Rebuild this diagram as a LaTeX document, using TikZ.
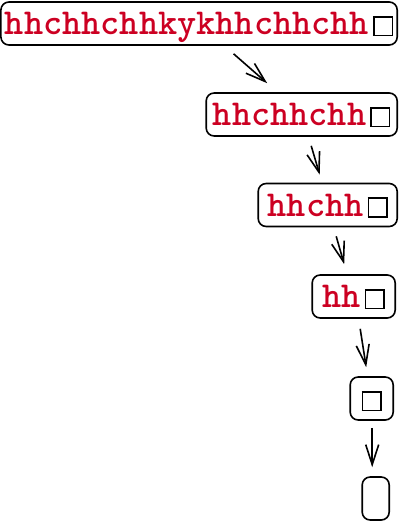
\documentclass[tikz,border=0pt]{standalone}
\usepackage{fontspec}
\usetikzlibrary{arrows.meta}
\definecolor{codered}{RGB}{204,0,34}
\newcommand\holebox{{\setlength{\fboxsep}{0pt}\setlength{\fboxrule}{1.6pt}\fbox{\rule{0pt}{17pt}\rule{17pt}{0pt}}}}
\newcommand\redword[1]{\textcolor{codered}{#1}\hspace{4pt}\holebox\hspace{6pt}}
\tikzset{
  strbox/.style={draw,line width=1.6pt,rounded corners=8pt,anchor=east,
    inner xsep=4pt,inner ysep=0pt,minimum height=43pt,
    text height=22pt,text depth=0pt,
    font=\ttfamily\bfseries\fontsize{36.5}{40}\selectfont},
  shrink/.style={line width=1.6pt,-{Straight Barb[length=20pt,width=13pt]}}
}
\begin{document}
\begin{tikzpicture}[x=1pt,y=-1pt]
  \useasboundingbox (0,0) rectangle (400,522);
  % the strings, one shorter each step
  \node[strbox] (s1) at (398,23.5) {\redword{hhchhchhkykhhchhchh}};
  \node[strbox,minimum width=191pt] (s2) at (398,114.5) {\redword{hhchhchh}};
  \node[strbox,minimum width=139pt] (s3) at (398,205) {\redword{hhchh}};
  \node[strbox,minimum width=83pt] (s4) at (396,296.5) {\redword{hh}};
  \node[strbox,minimum width=43pt] (s5) at (394,398.5) {\holebox};
  \node[strbox,minimum width=27pt] (s6) at (390,498.5) {};

  % arrows between them
  \draw[shrink] ([xshift=34.5pt,yshift=-8pt]s1.south) -- ([xshift=-34.5pt,yshift=9pt]s2.north);
  \draw[shrink] ([xshift=9.5pt,yshift=-9pt]s2.south) -- ([xshift=-8pt,yshift=8pt]s3.north);
  \draw[shrink] ([xshift=8.5pt,yshift=-9pt]s3.south) -- ([xshift=-9.5pt,yshift=10pt]s4.north);
  \draw[shrink] ([xshift=6.5pt,yshift=-10pt]s4.south) -- ([xshift=-5.5pt,yshift=9pt]s5.north);
  \draw[shrink] ([xshift=0.5pt,yshift=-7pt]s5.south) -- ([xshift=-3.5pt,yshift=9pt]s6.north);

\end{tikzpicture}
\end{document}
